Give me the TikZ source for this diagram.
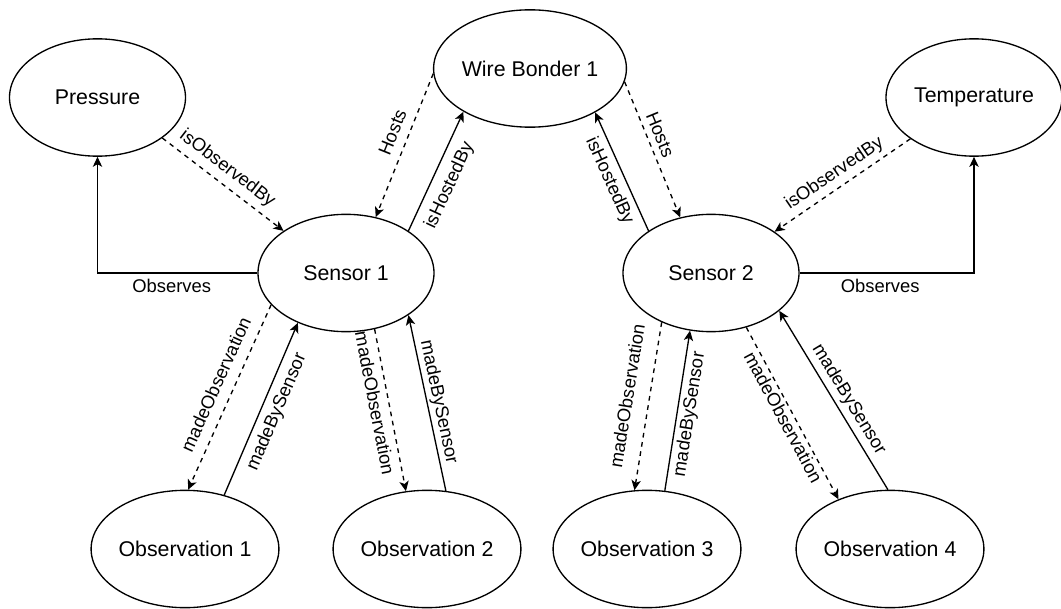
\documentclass[tikz,border=0pt]{standalone}
\usepackage{fontspec}
\setmainfont{Liberation Sans}
\usetikzlibrary{shapes.geometric,arrows.meta}
\begin{document}
\begin{tikzpicture}[x=0.75pt,y=0.75pt,
  entity/.style={draw, ellipse, line width=1pt, minimum width=132pt,
    minimum height=88pt, inner sep=0pt, font=\fontsize{16}{19}\selectfont},
  link/.style={line width=1pt, -{Stealth[length=7.5pt,width=7pt,inset=2pt]}},
  inferred/.style={link, dash pattern=on 3.5pt off 3.5pt},
  lbl/.style={font=\fontsize{13.8}{16}\selectfont, sloped, outer sep=0pt},
  flatlbl/.style={font=\fontsize{13.8}{16}\selectfont, outer sep=0pt},
]
\useasboundingbox (0,0) rectangle (1061,608);

% entities
\node[entity] (P)  at (97.5,510.5) {Pressure};
\node[entity] (WB) at (530,539.5)  {Wire Bonder 1};
\node[entity] (T)  at (974,510.5)  {Temperature};
\node[entity] (S1) at (346,335)    {Sensor 1};
\node[entity] (S2) at (711,335)    {Sensor 2};
\node[entity] (O1) at (185,59)     {Observation 1};
\node[entity] (O2) at (427,59)     {Observation 2};
\node[entity] (O3) at (647,59)     {Observation 3};
\node[entity] (O4) at (890,59)     {Observation 4};

% observed properties
\draw[link] (S1.west) -| node[flatlbl, pos=0.268, below, inner sep=4.75pt] {Observes} (P.south);
\draw[link] (S2.east) -| node[flatlbl, pos=0.231, below, inner sep=4.75pt] {Observes} (T.south);
\draw[inferred] (P.-32.5) -- node[lbl, pos=.46, above, inner sep=4.95pt] {isObservedBy} (S1.146);
\draw[inferred] (T.213.2) -- node[lbl, pos=.5, above, inner sep=4.2pt] {isObservedBy} (S2.33.9);

% platform hosting
\draw[inferred] (WB.183.5) -- node[lbl, pos=.45, above, inner sep=7.2pt] {Hosts} (S1.62.7);
\draw[link] (S1.34.1) -- node[lbl, pos=.445, below, inner sep=7.4pt] {isHostedBy} (WB.213.8);
\draw[link] (S2.146.9) -- node[lbl, pos=.474, below, inner sep=5pt] {isHostedBy} (WB.-34.6);
\draw[inferred] (WB.-8.3) -- node[lbl, pos=.425, above, inner sep=4.9pt] {Hosts} (S2.119.5);

% observations of sensor 1
\draw[inferred] (S1.203.6) -- node[lbl, pos=.47, above, inner sep=8.4pt] {madeObservation} (O1.87);
\draw[link] (O1.54.9) -- node[lbl, pos=.517, below, inner sep=5.55pt] {madeBySensor} (S1.226.6);
\draw[inferred] (S1.-63) -- node[lbl, pos=.44, below, inner sep=5.1pt] {madeObservation} (O2.110.8);
\draw[link] (O2.72.5) -- node[lbl, pos=.49, above, inner sep=2pt] {madeBySensor} (S1.-34.5);

% observations of sensor 2
\draw[inferred] (S2.225) -- node[lbl, pos=.46, above, inner sep=11.8pt] {madeObservation} (O3.102.7);
\draw[link] (O3.73) -- node[lbl, pos=.49, below, inner sep=3.15pt] {madeBySensor} (S2.250.7);
\draw[inferred] (S2.-57) -- node[lbl, pos=.495, below, inner sep=2.2pt] {madeObservation} (O4.136.7);
\draw[link] (O4.92) -- node[lbl, pos=.465, above, inner sep=3.55pt] {madeBySensor} (S2.-29);
\end{tikzpicture}
\end{document}
